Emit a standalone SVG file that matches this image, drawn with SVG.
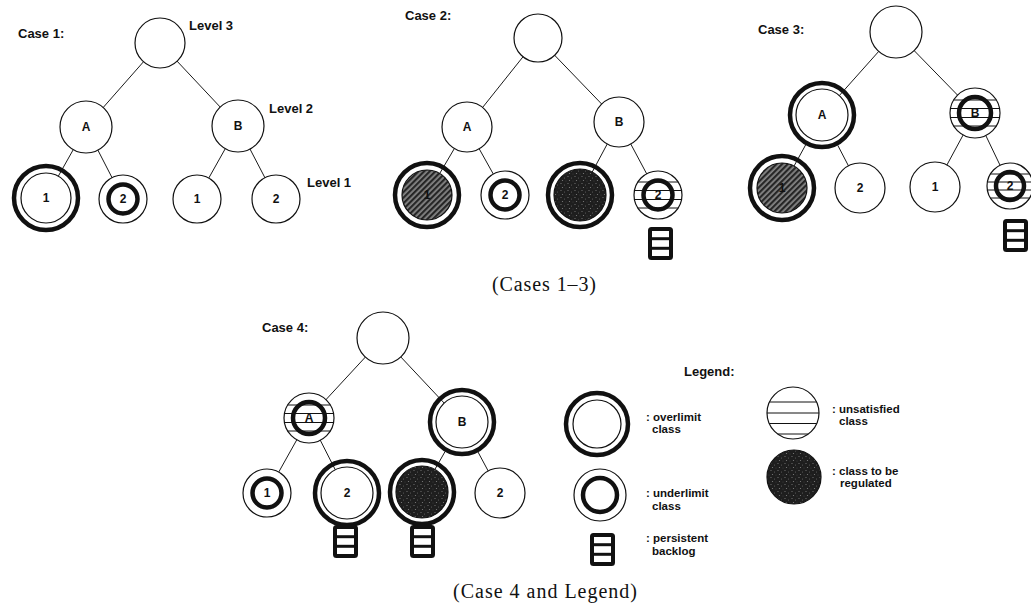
<svg xmlns="http://www.w3.org/2000/svg" xmlns:xlink="http://www.w3.org/1999/xlink" width="1031" height="608" viewBox="0 0 1031 608">
<style>
.edge{stroke:#1a1a1a;stroke-width:1;fill:none}
.thin{fill:#fff;stroke:#111;stroke-width:1.2}
.ring{fill:none;stroke:#111;stroke-width:4.5}
.stripe{stroke:#111;stroke-width:1}
.hatched{fill:url(#hatch);stroke:#111;stroke-width:1.2}
.stipple{fill:url(#stip);stroke:#111;stroke-width:1.2}
.lbl{font-family:"Liberation Sans",Arial,sans-serif;font-weight:bold;font-size:12px;text-anchor:middle;fill:#111}
.head{font-family:"Liberation Sans",Arial,sans-serif;font-weight:bold;font-size:13px;fill:#111}
.leg{font-family:"Liberation Sans",Arial,sans-serif;font-weight:bold;font-size:11.5px;fill:#111}
.cap{font-family:"Liberation Serif","Times New Roman",serif;font-size:20px;fill:#111}
.bl rect{fill:none;stroke:#111;stroke-width:4}
.bl line{stroke:#111;stroke-width:3}
</style>
<defs>
<pattern id="hatch" width="4" height="4" patternUnits="userSpaceOnUse" patternTransform="rotate(45)">
<rect width="4" height="4" fill="#858585"/>
<rect width="2.2" height="4" fill="#262626"/>
</pattern>
<pattern id="stip" width="7" height="7" patternUnits="userSpaceOnUse">
<rect width="7" height="7" fill="#1e1e1e"/>
<circle cx="1" cy="1.5" r="0.6" fill="#7a7a7a"/>
<circle cx="4.5" cy="3" r="0.5" fill="#6a6a6a"/>
<circle cx="2.5" cy="5.5" r="0.6" fill="#808080"/>
<circle cx="6" cy="6" r="0.4" fill="#5a5a5a"/>
</pattern>
<g id="bl" class="bl">
<rect x="2" y="2" width="21" height="29" rx="1.5"/>
<line x1="2" y1="11.7" x2="23" y2="11.7"/>
<line x1="2" y1="21.3" x2="23" y2="21.3"/>
</g>
</defs>
<rect width="1031" height="608" fill="#fff"/>

<g id="connectors">
<line class="edge" x1="160" y1="43" x2="86" y2="127"/>
<line class="edge" x1="160" y1="43" x2="238" y2="126"/>
<line class="edge" x1="86" y1="127" x2="58.3" y2="176.2"/>
<line class="edge" x1="86" y1="127" x2="123" y2="199"/>
<line class="edge" x1="238" y1="126" x2="197" y2="199"/>
<line class="edge" x1="238" y1="126" x2="276" y2="199"/>
<line class="edge" x1="538" y1="38" x2="467" y2="127"/>
<line class="edge" x1="538" y1="38" x2="619" y2="122"/>
<line class="edge" x1="467" y1="127" x2="439.7" y2="173.5"/>
<line class="edge" x1="467" y1="127" x2="505" y2="195"/>
<line class="edge" x1="619" y1="122" x2="592.2" y2="172.1"/>
<line class="edge" x1="619" y1="122" x2="658" y2="195"/>
<line class="edge" x1="896" y1="32" x2="839.3" y2="95.6"/>
<line class="edge" x1="896" y1="32" x2="975" y2="113"/>
<line class="edge" x1="805.7" y1="144.8" x2="794" y2="166.1"/>
<line class="edge" x1="837.7" y1="145.2" x2="860" y2="188"/>
<line class="edge" x1="975" y1="113" x2="935" y2="187"/>
<line class="edge" x1="975" y1="113" x2="1010" y2="186"/>
<line class="edge" x1="383" y1="338" x2="309" y2="418"/>
<line class="edge" x1="383" y1="338" x2="444.2" y2="403.1"/>
<line class="edge" x1="309" y1="418" x2="267" y2="493"/>
<line class="edge" x1="309" y1="418" x2="335.3" y2="469.8"/>
<line class="edge" x1="445.1" y1="451.5" x2="434.9" y2="469.4"/>
<line class="edge" x1="478" y1="452" x2="500" y2="493"/>
</g>

<!-- ===== Case 1 ===== -->
<text class="head" x="18" y="38">Case 1:</text>
<text class="head" x="189" y="30">Level 3</text>
<text class="head" x="269" y="113">Level 2</text>
<text class="head" x="307" y="187">Level 1</text>
<g id="c1-root"><circle class="thin" cx="160" cy="43" r="25"/></g>
<g id="c1-A"><circle class="thin" cx="86" cy="127" r="26"/><text class="lbl" x="86" y="131.3">A</text></g>
<g id="c1-B"><circle class="thin" cx="238" cy="126" r="26"/><text class="lbl" x="238" y="130.3">B</text></g>
<g id="c1-A1"><circle class="thin" cx="46" cy="198" r="25"/><circle class="ring" cx="46" cy="198" r="32"/><text class="lbl" x="46" y="202.3">1</text></g>
<g id="c1-A2"><circle class="thin" cx="123" cy="199" r="24"/><circle class="ring" cx="123" cy="199" r="14.5"/><text class="lbl" x="123" y="203.3">2</text></g>
<g id="c1-B1"><circle class="thin" cx="197" cy="199" r="24"/><text class="lbl" x="197" y="203.3">1</text></g>
<g id="c1-B2"><circle class="thin" cx="276" cy="199" r="24"/><text class="lbl" x="276" y="203.3">2</text></g>

<!-- ===== Case 2 ===== -->
<text class="head" x="405" y="20">Case 2:</text>
<g id="c2-root"><circle class="thin" cx="538" cy="38" r="24"/></g>
<g id="c2-A"><circle class="thin" cx="467" cy="127" r="25"/><text class="lbl" x="467" y="131.3">A</text></g>
<g id="c2-B"><circle class="thin" cx="619" cy="122" r="25"/><text class="lbl" x="619" y="126.3">B</text></g>
<g id="c2-A1"><circle class="hatched" cx="427" cy="195" r="25"/><circle class="ring" cx="427" cy="195" r="32"/><text class="lbl" x="427" y="199.3" fill="#333">1</text></g>
<g id="c2-A2"><circle class="thin" cx="505" cy="195" r="24"/><circle class="ring" cx="505" cy="195" r="14.5"/><text class="lbl" x="505" y="199.3">2</text></g>
<g id="c2-B1"><circle class="stipple" cx="580" cy="195" r="26"/><circle class="ring" cx="580" cy="195" r="32"/></g>
<g id="c2-B2"><circle class="thin" cx="658" cy="195" r="24"/>
<line class="stripe" x1="637.8" y1="182" x2="678.2" y2="182"/>
<line class="stripe" x1="634.4" y1="190.5" x2="681.6" y2="190.5"/>
<line class="stripe" x1="634.4" y1="199.5" x2="681.6" y2="199.5"/>
<line class="stripe" x1="637.8" y1="208" x2="678.2" y2="208"/>
<circle class="ring" cx="658" cy="195" r="14.5"/><text class="lbl" x="658" y="199.3">2</text></g>
<g id="c2-backlog"><use xlink:href="#bl" href="#bl" x="648" y="227"/></g>

<!-- ===== Case 3 ===== -->
<text class="head" x="758" y="34">Case 3:</text>
<g id="c3-root"><circle class="thin" cx="896" cy="32" r="26"/></g>
<g id="c3-A"><circle class="thin" cx="822" cy="115" r="26"/><circle class="ring" cx="822" cy="115" r="32"/><text class="lbl" x="822" y="119.3">A</text></g>
<g id="c3-B"><circle class="thin" cx="975" cy="113" r="25"/>
<line class="stripe" x1="953.6" y1="100" x2="996.4" y2="100"/>
<line class="stripe" x1="950.4" y1="108.5" x2="999.6" y2="108.5"/>
<line class="stripe" x1="950.4" y1="117.5" x2="999.6" y2="117.5"/>
<line class="stripe" x1="953.6" y1="126" x2="996.4" y2="126"/>
<circle class="ring" cx="975" cy="113" r="16"/><text class="lbl" x="975" y="117.3">B</text></g>
<g id="c3-A1"><circle class="hatched" cx="782" cy="188" r="25"/><circle class="ring" cx="782" cy="188" r="32"/><text class="lbl" x="782" y="192.3" fill="#333">1</text></g>
<g id="c3-A2"><circle class="thin" cx="860" cy="188" r="25"/><text class="lbl" x="860" y="192.3">2</text></g>
<g id="c3-B1"><circle class="thin" cx="935" cy="187" r="25"/><text class="lbl" x="935" y="191.3">1</text></g>
<g id="c3-B2"><circle class="thin" cx="1010" cy="186" r="23"/>
<line class="stripe" x1="990.4" y1="174" x2="1029.6" y2="174"/>
<line class="stripe" x1="987.4" y1="182" x2="1032.6" y2="182"/>
<line class="stripe" x1="987.4" y1="190" x2="1032.6" y2="190"/>
<line class="stripe" x1="990.4" y1="198" x2="1029.6" y2="198"/>
<circle class="ring" cx="1010" cy="186" r="14"/><text class="lbl" x="1010" y="190.3">2</text></g>
<g id="c3-backlog"><use xlink:href="#bl" href="#bl" x="1003" y="219"/></g>

<text class="cap" x="492" y="291" textLength="104" lengthAdjust="spacing">(Cases 1–3)</text>

<!-- ===== Case 4 ===== -->
<text class="head" x="262" y="332">Case 4:</text>
<g id="c4-root"><circle class="thin" cx="383" cy="338" r="26"/></g>
<g id="c4-A"><circle class="thin" cx="309" cy="418" r="25"/>
<line class="stripe" x1="287.6" y1="405" x2="330.4" y2="405"/>
<line class="stripe" x1="284.4" y1="413.5" x2="333.6" y2="413.5"/>
<line class="stripe" x1="284.4" y1="422.5" x2="333.6" y2="422.5"/>
<line class="stripe" x1="287.6" y1="431" x2="330.4" y2="431"/>
<circle class="ring" cx="309" cy="418" r="16"/><text class="lbl" x="309" y="422.3">A</text></g>
<g id="c4-B"><circle class="thin" cx="462" cy="422" r="26"/><circle class="ring" cx="462" cy="422" r="32"/><text class="lbl" x="462" y="426.3">B</text></g>
<g id="c4-A1"><circle class="thin" cx="267" cy="493" r="24"/><circle class="ring" cx="267" cy="493" r="14.5"/><text class="lbl" x="267" y="497.3">1</text></g>
<g id="c4-A2"><circle class="thin" cx="347" cy="493" r="26"/><circle class="ring" cx="347" cy="493" r="32"/><text class="lbl" x="347" y="497.3">2</text></g>
<g id="c4-B1"><circle class="stipple" cx="422" cy="492" r="26"/><circle class="ring" cx="422" cy="492" r="32"/></g>
<g id="c4-B2"><circle class="thin" cx="500" cy="493" r="25"/><text class="lbl" x="500" y="497.3">2</text></g>
<g id="c4-backlog-A2"><use xlink:href="#bl" href="#bl" x="333" y="525"/></g>
<g id="c4-backlog-B1"><use xlink:href="#bl" href="#bl" x="410" y="525"/></g>

<!-- ===== Legend ===== -->
<g id="legend">
<text class="head" x="684" y="376">Legend:</text>
<g id="leg-overlimit"><circle class="thin" cx="597" cy="424" r="24"/><circle class="ring" cx="597" cy="424" r="31"/>
<text class="leg" x="646" y="421">: overlimit<tspan x="652" y="433">class</tspan></text></g>
<g id="leg-underlimit"><circle class="thin" cx="600" cy="495" r="26"/><circle class="ring" cx="600" cy="495" r="17"/>
<text class="leg" x="646" y="497">: underlimit<tspan x="652" y="510">class</tspan></text></g>
<g id="leg-backlog"><use xlink:href="#bl" href="#bl" x="590" y="533"/>
<text class="leg" x="646" y="542">: persistent<tspan x="652" y="555">backlog</tspan></text></g>
<g id="leg-unsatisfied"><circle class="thin" cx="793" cy="413" r="26"/>
<line class="stripe" x1="769.4" y1="402" x2="816.6" y2="402"/>
<line class="stripe" x1="767" y1="413" x2="819" y2="413"/>
<line class="stripe" x1="769.2" y1="423.5" x2="816.8" y2="423.5"/>
<line class="stripe" x1="777.7" y1="434" x2="808.3" y2="434"/>
<text class="leg" x="832" y="413">: unsatisfied<tspan x="839" y="425">class</tspan></text></g>
<g id="leg-regulated"><circle class="stipple" cx="794" cy="477" r="27"/>
<text class="leg" x="832" y="475">: class to be<tspan x="840" y="487">regulated</tspan></text></g>
</g>

<text class="cap" x="453" y="598" textLength="184" lengthAdjust="spacing">(Case 4 and Legend)</text>
</svg>
